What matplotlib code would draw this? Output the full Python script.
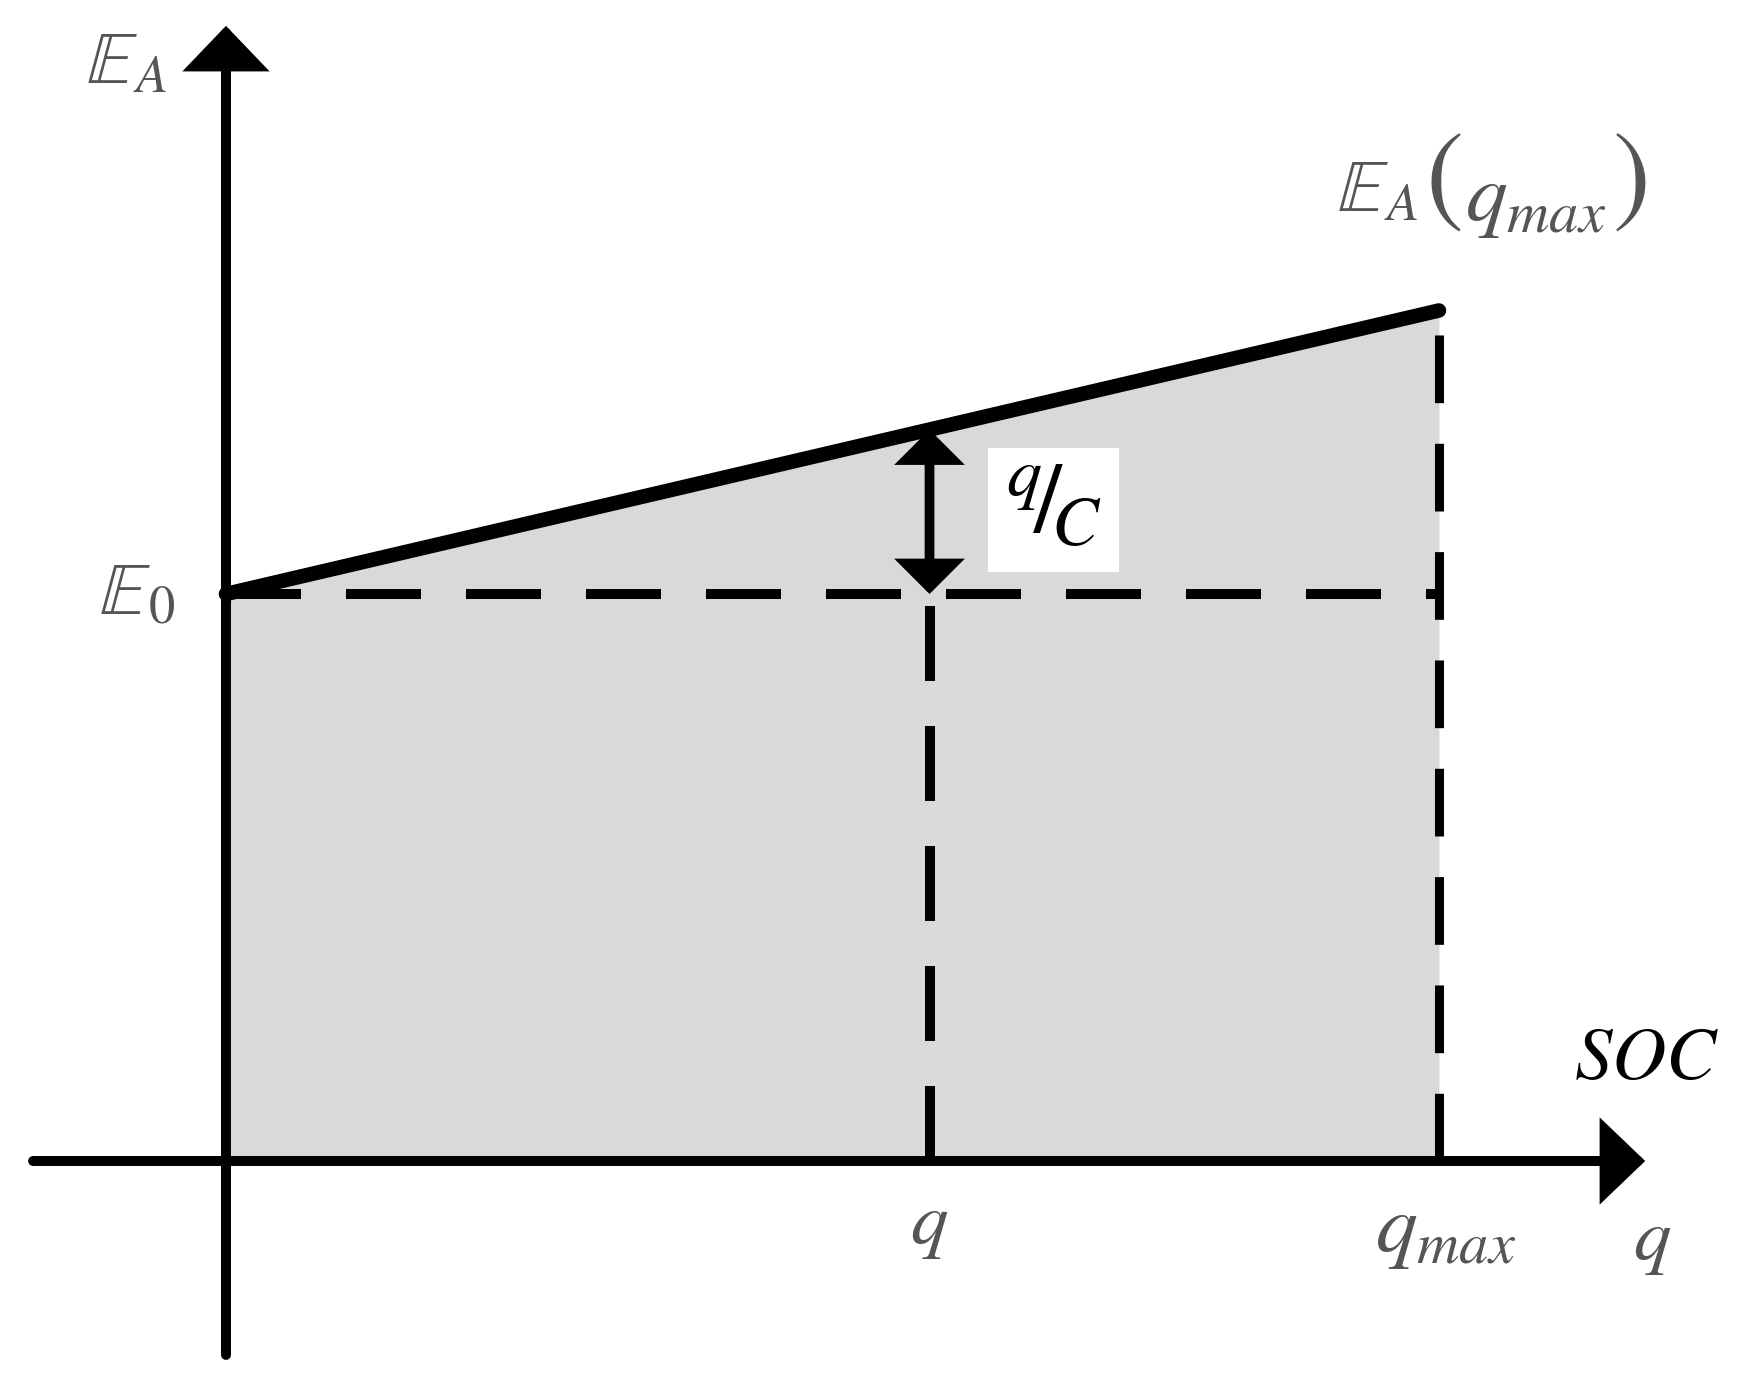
import matplotlib.pyplot as plt
import numpy as np

plt.rcParams['mathtext.fontset'] = 'stix'
plt.rcParams['font.family'] = 'STIXGeneral'

# charge axis normalised by q_max, potential normalised by E0
q_pts = [0.0, 1.0]      # 0 .. q_max
E_pts = [1.0, 1.5]      # E0 .. E_A(q_max)
q_mark = 0.58           # the "q" position
E0 = E_pts[0]
q_max = q_pts[-1]
E_qmark = np.interp(q_mark, q_pts, E_pts)

# axis extent (layout)
x_start, x_tip = -0.159, 1.170
y_start, y_tip = -0.342, 2.002

gray_txt = '#555555'
fill_col = '#d9d9d9'
dash = (0, (7.5, 4.5))

fig = plt.figure(figsize=(17.41, 13.76), dpi=100)
ax = fig.add_axes([0, 0, 1, 1])
ax.set_xlim(-0.1863, 1.2490)
ax.set_ylim(-0.3792, 2.0476)
ax.axis('off')

# shaded area under the potential line
ax.fill_between(q_pts, E_pts, 0, color=fill_col, lw=0, zorder=1)

# dashed helper lines
ax.plot([q_pts[0], q_max], [E0, E0], color='k', lw=7.2, ls=dash, dash_capstyle='butt', zorder=2)
ax.plot([q_max, q_max], [0, E_pts[-1]], color='k', lw=6.5, ls=dash, dash_capstyle='butt', zorder=2)
ax.plot([q_mark, q_mark], [0, E0], color='k', lw=7.2, ls=dash, dash_capstyle='butt', zorder=2)

# potential line
ax.plot(q_pts, E_pts, color='k', lw=10.5, solid_capstyle='round', zorder=4)

# axes with arrow heads
axis_arrow = dict(arrowstyle='-|>,head_length=24,head_width=23', mutation_scale=1,
                  lw=7.2, color='k', shrinkA=0, shrinkB=0, joinstyle='miter')
ax.annotate('', xy=(x_tip, 0), xytext=(x_start, 0), arrowprops=axis_arrow, zorder=5)
ax.annotate('', xy=(0, y_tip), xytext=(0, y_start), arrowprops=axis_arrow, zorder=5)

# q/C double arrow
ax.annotate('', xy=(q_mark, E_qmark), xytext=(q_mark, E0),
            arrowprops=dict(arrowstyle='<|-|>,head_length=17,head_width=17', mutation_scale=1,
                            lw=7, color='k', shrinkA=0, shrinkB=0, joinstyle='miter'), zorder=5)
ax.annotate(r'${}^{q}\!/\!{}_{C}$', xy=(q_mark, E0), xytext=(124, 84), textcoords='offset pixels',
            ha='center', va='center', fontsize=72, color='k',
            bbox=dict(boxstyle='square,pad=0.17', fc='white', ec='none'), zorder=6)

# labels
fs = 54
ax.annotate(r'$\mathbb{E}_{A}$', xy=(0, y_tip), xytext=(-59, -40), textcoords='offset pixels',
            ha='right', va='center', fontsize=fs, color=gray_txt)
ax.annotate(r'$\mathbb{E}_{0}$', xy=(0, E0), xytext=(-51, -3), textcoords='offset pixels',
            ha='right', va='center', fontsize=fs, color=gray_txt)

# E_A(q_max) with tall parentheses
top_lbl = dict(xy=(q_max, E_pts[-1]), textcoords='offset pixels', color=gray_txt)
ax.annotate(r'$\mathbb{E}_{A}$', xytext=(-102, 117), ha='left', va='center', fontsize=fs, **top_lbl)
ax.annotate('(', xytext=(5, 126), ha='center', va='center', fontsize=82, **top_lbl)
ax.annotate(r'$q_{max}$', xytext=(26, 108), ha='left', va='center', fontsize=60, **top_lbl)
ax.annotate(')', xytext=(193, 126), ha='center', va='center', fontsize=82, **top_lbl)

ax.annotate(r'$q$', xy=(q_mark, 0), xytext=(0, -66), textcoords='offset pixels',
            ha='center', va='center', fontsize=fs, color=gray_txt)
ax.annotate(r'$q_{max}$', xy=(q_max, 0), xytext=(7, -73), textcoords='offset pixels',
            ha='center', va='center', fontsize=60, color=gray_txt)
ax.annotate(r'$q$', xy=(x_tip, 0), xytext=(7, -82), textcoords='offset pixels',
            ha='center', va='center', fontsize=fs, color=gray_txt)
ax.annotate(r'$SOC$', xy=(x_tip, 0), xytext=(1, 99), textcoords='offset pixels',
            ha='center', va='center', fontsize=fs, color='k')

fig.savefig('out.png', dpi=100)
